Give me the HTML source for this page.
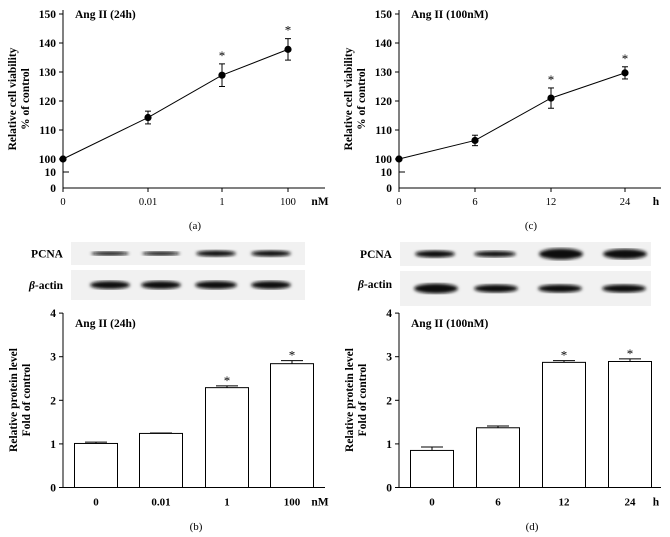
<!DOCTYPE html>
<html><head><meta charset="utf-8"><style>
body{margin:0;background:#fff}
svg{display:block;font-family:"Liberation Serif",serif}
</style></head><body>
<svg id="fig" width="670" height="537" viewBox="0 0 670 537">
<defs>
<filter id="blur"><feGaussianBlur stdDeviation="1.6"/></filter>
</defs>
<g id="blots"></g>
</svg>
<script>
// Panel (a)
const catsA=["0","0.01","1","100"];
const valsA=[100,114.3,128.9,137.8];
const errsA=[0,2.2,3.9,3.7];
const starA=[false,false,true,true];
// Panel (c)
const catsC=["0","6","12","24"];
const valsC=[100,106.4,121,129.7];
const errsC=[0,1.8,3.5,2.1];
const starC=[false,false,true,true];
// Panel (b)
const catsB=["0","0.01","1","100"];
const valsB=[1.01,1.24,2.29,2.84];
const errsB=[0.03,0.01,0.04,0.07];
const starB=[false,false,true,true];
// Panel (d)
const catsD=["0","6","12","24"];
const valsD=[0.85,1.37,2.87,2.89];
const errsD=[0.08,0.04,0.04,0.06];
const starD=[false,false,true,true];
const lineTicks=[100,110,120,130,140,150];
const barTicks=[0,1,2,3,4];

const NS="http://www.w3.org/2000/svg";
const svg=document.getElementById('fig');
function el(t,a,p){const e=document.createElementNS(NS,t);for(const k in a)e.setAttribute(k,a[k]);(p||svg).appendChild(e);return e;}
function txt(s,a,p){const e=el('text',a,p);e.textContent=s;return e;}
const FS=11.5;

function linePanel(ox,xs,cats,vals,errs,stars,title,unit,cap,name){
  const g=el('g',{});
  
  
  const y=v=>159-(v-100)*2.9;
  const x0=ox, yb=188;
  el('line',{x1:x0,y1:10,x2:x0,y2:yb,stroke:'#000','stroke-width':1},g);
  el('line',{x1:x0,y1:yb,x2:x0+262,y2:yb,stroke:'#000','stroke-width':1},g);
  lineTicks.forEach(t=>{el('line',{x1:x0-4,y1:y(t),x2:x0,y2:y(t),stroke:'#000'},g);
    txt(t,{x:x0-7,y:y(t)+4,'text-anchor':'end','font-size':FS,'font-weight':'bold'},g);});
  el('line',{x1:x0,y1:172,x2:x0+6,y2:172,stroke:'#000'},g);
  txt('10',{x:x0-7,y:176,'text-anchor':'end','font-size':FS,'font-weight':'bold'},g);
  txt('0',{x:x0-7,y:192,'text-anchor':'end','font-size':FS,'font-weight':'bold'},g);
  cats.forEach((c,i)=>{el('line',{x1:xs[i],y1:yb,x2:xs[i],y2:yb+4,stroke:'#000'},g);
    txt(c,{x:xs[i],y:yb+17,'text-anchor':'middle','font-size':10.5},g);});
  txt(unit,{x:x0+257,y:yb+17,'text-anchor':'middle','font-size':FS,'font-weight':'bold'},g);
  txt(title,{x:x0+12,y:18,'font-size':FS,'font-weight':'bold'},g);
  const yt=el('text',{transform:`translate(${x0-47},99) rotate(-90)`,'text-anchor':'middle','font-size':FS,'font-weight':'bold'},g);
  
  
  const t1=el('tspan',{x:0,dy:0},yt);t1.textContent='Relative cell viability';
  const t2=el('tspan',{x:0,dy:13},yt);t2.textContent='% of control';
  el('polyline',{points:vals.map((v,i)=>xs[i]+','+y(v)).join(' '),fill:'none',stroke:'#000','stroke-width':1},g);
  vals.forEach((v,i)=>{
    if(errs[i]>0){el('line',{x1:xs[i],y1:y(v+errs[i]),x2:xs[i],y2:y(v-errs[i]),stroke:'#000'},g);
      el('line',{x1:xs[i]-3,y1:y(v+errs[i]),x2:xs[i]+3,y2:y(v+errs[i]),stroke:'#000'},g);
      el('line',{x1:xs[i]-3,y1:y(v-errs[i]),x2:xs[i]+3,y2:y(v-errs[i]),stroke:'#000'},g);}
    const c=el('circle',{cx:xs[i],cy:y(v),r:3.6,fill:'#000'},g);
    
    
    if(stars[i])txt('*',{x:xs[i],y:y(v+errs[i])-4,'text-anchor':'middle','font-size':13},g);
  });
  txt(cap,{x:x0+132,y:229,'text-anchor':'middle','font-size':11},g);
}
function barPanel(ox,xs,cats,vals,errs,stars,title,unit,cap,name){
  const g=el('g',{});
  
  
  const y=v=>487.5-v*43.6;
  const x0=ox, yb=487.5;
  el('line',{x1:x0,y1:313,x2:x0,y2:yb,stroke:'#000'},g);
  el('line',{x1:x0,y1:yb,x2:x0+262,y2:yb,stroke:'#000'},g);
  barTicks.forEach(t=>{el('line',{x1:x0-4,y1:y(t),x2:x0,y2:y(t),stroke:'#000'},g);
    txt(t,{x:x0-7,y:y(t)+4,'text-anchor':'end','font-size':FS,'font-weight':'bold'},g);});
  cats.forEach((c,i)=>txt(c,{x:xs[i],y:yb+18,'text-anchor':'middle','font-size':11,'font-weight':'bold'},g));
  txt(unit,{x:x0+257,y:yb+18,'text-anchor':'middle','font-size':FS,'font-weight':'bold'},g);
  txt(title,{x:x0+12,y:327,'font-size':FS,'font-weight':'bold'},g);
  const yt=el('text',{transform:`translate(${x0-46},400) rotate(-90)`,'text-anchor':'middle','font-size':FS,'font-weight':'bold'},g);
  
  
  const t1=el('tspan',{x:0,dy:0},yt);t1.textContent='Relative protein level';
  const t2=el('tspan',{x:0,dy:13},yt);t2.textContent='Fold of control';
  vals.forEach((v,i)=>{
    const r=el('rect',{x:xs[i]-21.5,y:y(v),width:43,height:yb-y(v),fill:'#fff',stroke:'#000'},g);
    
    
    el('line',{x1:xs[i],y1:y(v),x2:xs[i],y2:y(v+errs[i]),stroke:'#000'},g);
    el('line',{x1:xs[i]-11,y1:y(v+errs[i]),x2:xs[i]+11,y2:y(v+errs[i]),stroke:'#000'},g);
    if(stars[i])txt('*',{x:xs[i],y:y(v+errs[i])-1,'text-anchor':'middle','font-size':13},g);
  });
  txt(cap,{x:x0+133,y:530,'text-anchor':'middle','font-size':11},g);
}
linePanel(63,[63,148,222,288],catsA,valsA,errsA,starA,'Ang II (24h)','nM','(a)','chart-a');
linePanel(399,[399,475,551,625],catsC,valsC,errsC,starC,'Ang II (100nM)','h','(c)','chart-c');
barPanel(63,[96,161,227,292],catsB,valsB,errsB,starB,'Ang II (24h)','nM','(b)','chart-b');
barPanel(399,[432,498,564,630],catsD,valsD,errsD,starD,'Ang II (100nM)','h','(d)','chart-d');

const bl=document.getElementById('blots');
function blot(x,y,w,h,bands,lab){
  el('rect',{x:x,y:y,width:w,height:h,fill:'#f1f1f1'},bl);
  bands.forEach(b=>el('ellipse',{cx:b[0],cy:y+h/2,rx:b[1],ry:b[2],fill:'#111',filter:'url(#blur)'},bl));
  return txt(lab,{x:x-8,y:y+h/2+4,'text-anchor':'end','font-size':FS,'font-weight':'bold'},bl);
}
blot(71,242,234,23,[[110,19,2],[161,19,2],[216,20,3],[271,20,3]],'PCNA');
blot(71,270,234,30,[[110,20,4],[161,20,4],[216,21,4],[271,20,4]],'');
const b1t=txt('',{x:63,y:289,'text-anchor':'end','font-size':FS,'font-weight':'bold'},bl);
b1t.innerHTML='<tspan font-style="italic">β</tspan>-actin';
blot(400,242,251,24,[[435,20,3.5],[495,21,3],[561,22,5.5],[625,22,5]],'PCNA');
blot(400,271,251,35,[[436,22,5],[496,22,4],[560,22,4],[624,22,4]],'');
const b2t=txt('',{x:392,y:288,'text-anchor':'end','font-size':FS,'font-weight':'bold'},bl);
b2t.innerHTML='<tspan font-style="italic">β</tspan>-actin';
</script>
</body></html>
